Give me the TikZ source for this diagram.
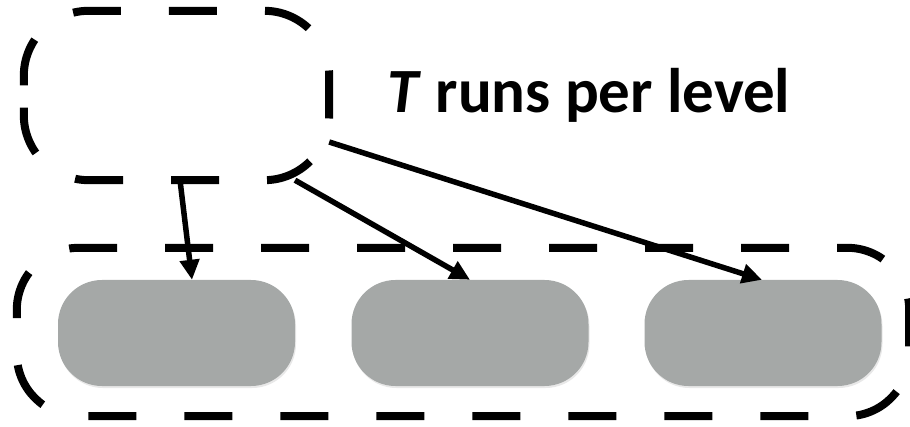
\documentclass[tikz,border=0pt]{standalone}
\usepackage{fontspec}
\setmainfont{Carlito}
\usetikzlibrary{arrows.meta,shadows}
\definecolor{boxgray}{HTML}{A5A8A7}
\tikzset{
  grp/.style={draw=none, inner sep=0pt},
  grpline/.style={draw=black, line width=8pt, dash pattern=on 48pt off 48pt},
  runbox/.style={fill=boxgray, rounded corners=44pt, minimum width=237pt, minimum height=106pt, inner sep=0pt,
     drop shadow={opacity=0.18, shadow xshift=1pt, shadow yshift=-2pt}},
  conn/.style={line width=5.5pt, -{Triangle[length=20pt,width=19pt]}},
  lbl/.style={font=\fontsize{63}{70}\selectfont\bfseries, inner sep=0pt, anchor=base}
}
\begin{document}
\begin{tikzpicture}[x=1pt,y=1pt]
\useasboundingbox (0,0) rectangle (910,426);
\node[grp, minimum width=305pt, minimum height=169pt] (top) at (176.5,330.5) {};
\node[grp, minimum width=892pt, minimum height=168pt] (bot) at (463,94) {};
\draw[grpline, rounded corners=65pt] ([yshift=10pt]top.west) -- (top.north west) -- (top.north east)
   -- (top.south east) -- (top.south west) -- ([yshift=10pt]top.west);
\draw[grpline, rounded corners=62pt] ([yshift=14pt]bot.west) -- (bot.north west) -- (bot.north east)
   -- (bot.south east) -- (bot.south west) -- ([yshift=14pt]bot.west);
\node[runbox] (g1) at (176.5,93) {};
\node[runbox] (g2) at (470,93) {};
\node[runbox] (g3) at (763,93) {};
\node[lbl] (title) at (589,313) {\textit{T} runs per level};
\draw[conn] ([xshift=3.5pt]top.south) -- ([xshift=15.5pt]g1.north);
\draw[conn] ([xshift=118.5pt]top.south) -- (g2.north);
\draw[conn] ([yshift=-46.5pt]top.east) -- ([xshift=-1pt]g3.north);
\end{tikzpicture}
\end{document}
